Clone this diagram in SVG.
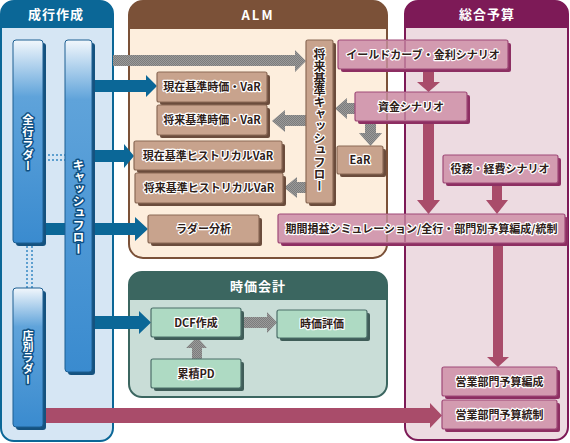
<svg xmlns="http://www.w3.org/2000/svg" width="570" height="443" viewBox="0 0 570 443">
<defs>
<linearGradient id="colg" x1="0" y1="0" x2="0" y2="1">
<stop offset="0" stop-color="#f2f7fc"/>
<stop offset="0.28" stop-color="#5fa3da"/>
<stop offset="1" stop-color="#3a8bcf"/>
</linearGradient>
<linearGradient id="colg2" x1="0" y1="0" x2="0" y2="1">
<stop offset="0" stop-color="#f2f7fc"/>
<stop offset="0.18" stop-color="#5fa3da"/>
<stop offset="1" stop-color="#3a8bcf"/>
</linearGradient>
<pattern id="dith" width="2" height="2" patternUnits="userSpaceOnUse">
<rect width="2" height="2" fill="#9a9a9a"/>
<rect width="1" height="1" fill="#7c7c7c"/>
<rect x="1" y="1" width="1" height="1" fill="#7c7c7c"/>
</pattern>
<style>
.hdr{font-family:"Noto Sans CJK JP","Noto Sans",sans-serif;font-weight:bold;font-size:13px;fill:#fff;text-anchor:middle;letter-spacing:1px}
.lbl{font-family:"Noto Sans CJK JP","Noto Sans",sans-serif;font-weight:bold;font-size:11px;fill:#2e2018;text-anchor:middle;stroke:#fff;stroke-width:2.4px;paint-order:stroke;stroke-linejoin:round}
.vcol{font-family:"Noto Sans CJK JP","Noto Sans",sans-serif;font-weight:bold;font-size:12px;fill:#fff;text-anchor:middle;writing-mode:vertical-rl;stroke:#0e4f82;stroke-width:3px;paint-order:stroke;stroke-linejoin:round}
.vbr{font-family:"Noto Sans CJK JP","Noto Sans",sans-serif;font-weight:bold;font-size:12px;fill:#2e2018;text-anchor:middle;writing-mode:vertical-rl;stroke:#fff;stroke-width:2.4px;paint-order:stroke;stroke-linejoin:round}
.col{fill:url(#colg);stroke:#1d5f92;stroke-width:1}
.colsh{fill:#15527f}
.br{fill:#c8a38d;stroke:#8b6a56;stroke-width:1.2}
.brsh{fill:#6b4c3c}
.pk{fill:#d39bb0;stroke:#a04a78;stroke-width:1.2}
.pksh{fill:#8d2f62}
.gr{fill:#aedac3;stroke:#4b6f69;stroke-width:1.2}
.grsh{fill:#3f5d58}
.blue{fill:#0b6797}
.gray{fill:url(#dith)}
.pink{fill:#a94c6a}
.dot{stroke:#5d9fcf;stroke-width:2;stroke-dasharray:2 2;fill:none}
</style>
</defs>

<g id="panel-seiko">
<rect x="1" y="1" width="112" height="440" rx="13" fill="#d6e6f4" stroke="#0b6797" stroke-width="2"/>
<path d="M1,28 V14 A13,13 0 0 1 14,1 H100 A13,13 0 0 1 113,14 V28 Z" fill="#0b6797"/>
<text class="hdr" x="56" y="19">成行作成</text>
</g>
<g id="panel-alm">
<rect x="129" y="1" width="258" height="257" rx="14" fill="#fdeedd" stroke="#7b5138" stroke-width="2"/>
<path d="M129,29 V15 A14,14 0 0 1 143,1 H373 A14,14 0 0 1 387,15 V29 Z" fill="#7b5138"/>
<text class="hdr" x="258" y="20" style="letter-spacing:2px">ALM</text>
</g>
<g id="panel-sogo">
<rect x="405" y="1" width="163" height="439" rx="13" fill="#eddbe1" stroke="#7d1a57" stroke-width="2"/>
<path d="M405,28 V14 A13,13 0 0 1 418,1 H555 A13,13 0 0 1 568,14 V28 Z" fill="#7d1a57"/>
<text class="hdr" x="487" y="19">総合予算</text>
</g>
<g id="panel-jika">
<rect x="129" y="272" width="258" height="125" rx="13" fill="#c9ddd7" stroke="#3b6660" stroke-width="2"/>
<path d="M129,300 V285 A13,13 0 0 1 142,272 H374 A13,13 0 0 1 387,285 V300 Z" fill="#3b6660"/>
<text class="hdr" x="258" y="291">時価会計</text>
</g>

<g id="connectors">
<line class="dot" x1="44" y1="155" x2="65" y2="155"/>
<line class="dot" x1="44" y1="160" x2="65" y2="160"/>
<line class="dot" x1="27" y1="246" x2="27" y2="288"/>
<line class="dot" x1="32" y1="246" x2="32" y2="288"/>
<polygon class="blue" points="92,80 146,80 146,75 157,86 146,97 146,92 92,92"/>
<polygon class="blue" points="92,150 124,150 124,144 134,156 124,168 124,162 92,162"/>
<polygon class="blue" points="43,223 135,223 135,217 148,229 135,241 135,235 43,235"/>
<polygon class="blue" points="92,316 139,316 139,311 151,322.5 139,334 139,329 92,329"/>
<polygon class="gray" points="113,55 295,55 295,50 306,61 295,72 295,66 113,66"/>
<polygon class="gray" points="306,115 285,115 285,110 272,121 285,132 285,126 306,126"/>
<polygon class="gray" points="306,182 297,182 297,177 284,187.5 297,198 297,193 306,193"/>
<polygon class="gray" points="355,103 347,103 347,98 335,108.5 347,119 347,114 355,114"/>
<polygon class="gray" points="365,121 376,121 376,133 382,133 370.5,146 359,133 365,133"/>
<polygon class="gray" points="192,359 202,359 202,348 207,348 197,337 186,348 192,348"/>
<polygon class="gray" points="243,317 267,317 267,312 277,322.5 267,333 267,328 243,328"/>
<polygon class="pink" points="423,69 434,69 434,82 440,82 428.5,92 417,82 423,82"/>
<polygon class="pink" points="423,121 434,121 434,200 440,200 428.5,214 417,200 423,200"/>
<polygon class="pink" points="492,183 502,183 502,200 508,200 497,214 486,200 492,200"/>
<polygon class="pink" points="493,243 503,243 503,357 509,357 498,367 487,357 493,357"/>
<polygon class="pink" points="43,408 430,408 430,403 442,415.5 430,428 430,423 43,423"/>
</g>

<g id="n-zenko">
<rect class="colsh" x="16" y="43" width="30" height="203" rx="3"/>
<rect class="col" x="13" y="40" width="30" height="203" rx="3"/>
<text class="vcol" x="28" y="143" style="font-size:11.5px">全行ラダー</text>
</g>
<g id="n-cf">
<rect class="colsh" x="68" y="43" width="27" height="332" rx="3"/>
<rect class="col" x="65" y="40" width="27" height="332" rx="3" style="fill:url(#colg2)"/>
<text class="vcol" x="78.5" y="207">キャッシュフロー</text>
</g>
<g id="n-tenbetsu">
<rect class="colsh" x="16" y="291" width="30" height="139" rx="3"/>
<rect class="col" x="13" y="288" width="30" height="139" rx="3"/>
<text class="vcol" x="28" y="358" style="font-size:11px">店別ラダー</text>
</g>

<g id="n-futurecf">
<rect class="brsh" x="309" y="43" width="27" height="163" rx="2"/>
<rect class="br" x="306" y="40" width="27" height="163" rx="2"/>
<text class="vbr" x="319.5" y="120">将来基準キャッシュフロー</text>
</g>
<g id="n-genzai-var">
<rect class="brsh" x="160" y="75" width="110" height="30" rx="2"/>
<rect class="br" x="157" y="72" width="110" height="30" rx="2"/>
<text class="lbl" x="212" y="91">現在基準時価・VaR</text>
</g>
<g id="n-shorai-var">
<rect class="brsh" x="160" y="108" width="110" height="30" rx="2"/>
<rect class="br" x="157" y="105" width="110" height="30" rx="2"/>
<text class="lbl" x="212" y="124">将来基準時価・VaR</text>
</g>
<g id="n-genzai-hist">
<rect class="brsh" x="137" y="144" width="148" height="29" rx="2"/>
<rect class="br" x="134" y="141" width="148" height="29" rx="2"/>
<text class="lbl" x="208" y="159.5">現在基準ヒストリカルVaR</text>
</g>
<g id="n-shorai-hist">
<rect class="brsh" x="138" y="176" width="148" height="30" rx="2"/>
<rect class="br" x="135" y="173" width="148" height="30" rx="2"/>
<text class="lbl" x="209" y="192">将来基準ヒストリカルVaR</text>
</g>
<g id="n-ladder">
<rect class="brsh" x="151" y="218" width="111" height="28" rx="2"/>
<rect class="br" x="148" y="215" width="111" height="28" rx="2"/>
<text class="lbl" x="203.5" y="233">ラダー分析</text>
</g>
<g id="n-ear">
<rect class="brsh" x="340" y="149" width="46" height="28" rx="2"/>
<rect class="br" x="337" y="146" width="46" height="28" rx="2"/>
<text class="lbl" x="360" y="164">EaR</text>
</g>

<g id="n-yield">
<rect class="pksh" x="341" y="43" width="170" height="29" rx="2"/>
<rect class="pk" x="338" y="40" width="170" height="29" rx="2"/>
<line x1="387" y1="41" x2="387" y2="68" stroke="#7b5138" stroke-opacity="0.3" stroke-width="2"/>
<line x1="405" y1="41" x2="405" y2="68" stroke="#7d1a57" stroke-opacity="0.3" stroke-width="2"/>
<text class="lbl" x="423" y="58.5">イールドカーブ・金利シナリオ</text>
</g>
<g id="n-shikin">
<rect class="pksh" x="358" y="95" width="112" height="29" rx="2"/>
<rect class="pk" x="355" y="92" width="112" height="29" rx="2"/>
<line x1="387" y1="93" x2="387" y2="120" stroke="#7b5138" stroke-opacity="0.3" stroke-width="2"/>
<line x1="405" y1="93" x2="405" y2="120" stroke="#7d1a57" stroke-opacity="0.3" stroke-width="2"/>
<text class="lbl" x="411" y="110.5">資金シナリオ</text>
</g>
<g id="n-ekimu">
<rect class="pksh" x="446" y="158" width="115" height="28" rx="2"/>
<rect class="pk" x="443" y="155" width="115" height="28" rx="2"/>
<text class="lbl" x="500" y="173">役務・経費シナリオ</text>
</g>
<g id="n-kikan">
<rect class="pksh" x="281" y="217" width="287" height="29" rx="2"/>
<rect class="pk" x="278" y="214" width="287" height="29" rx="2"/>
<line x1="387" y1="215" x2="387" y2="242" stroke="#7b5138" stroke-opacity="0.3" stroke-width="2"/>
<line x1="405" y1="215" x2="405" y2="242" stroke="#7d1a57" stroke-opacity="0.3" stroke-width="2"/>
<text class="lbl" x="421.5" y="232.5">期間損益シミュレーション/全行・部門別予算編成/統制</text>
</g>
<g id="n-eigyo-hensei">
<rect class="pksh" x="445" y="370" width="115" height="29" rx="2"/>
<rect class="pk" x="442" y="367" width="115" height="29" rx="2"/>
<text class="lbl" x="499.5" y="385.5">営業部門予算編成</text>
</g>
<g id="n-eigyo-tosei">
<rect class="pksh" x="445" y="403" width="115" height="29" rx="2"/>
<rect class="pk" x="442" y="400" width="115" height="29" rx="2"/>
<text class="lbl" x="499.5" y="418.5">営業部門予算統制</text>
</g>

<g id="n-dcf">
<rect class="grsh" x="154" y="311" width="90" height="29" rx="2"/>
<rect class="gr" x="151" y="308" width="90" height="29" rx="2"/>
<text class="lbl" x="196" y="326.5">DCF作成</text>
</g>
<g id="n-jika">
<rect class="grsh" x="280" y="313" width="90" height="28" rx="2"/>
<rect class="gr" x="277" y="310" width="90" height="28" rx="2"/>
<text class="lbl" x="322" y="328">時価評価</text>
</g>
<g id="n-pd">
<rect class="grsh" x="154" y="362" width="90" height="29" rx="2"/>
<rect class="gr" x="151" y="359" width="90" height="29" rx="2"/>
<text class="lbl" x="196" y="377.5">累積PD</text>
</g>
</svg>
